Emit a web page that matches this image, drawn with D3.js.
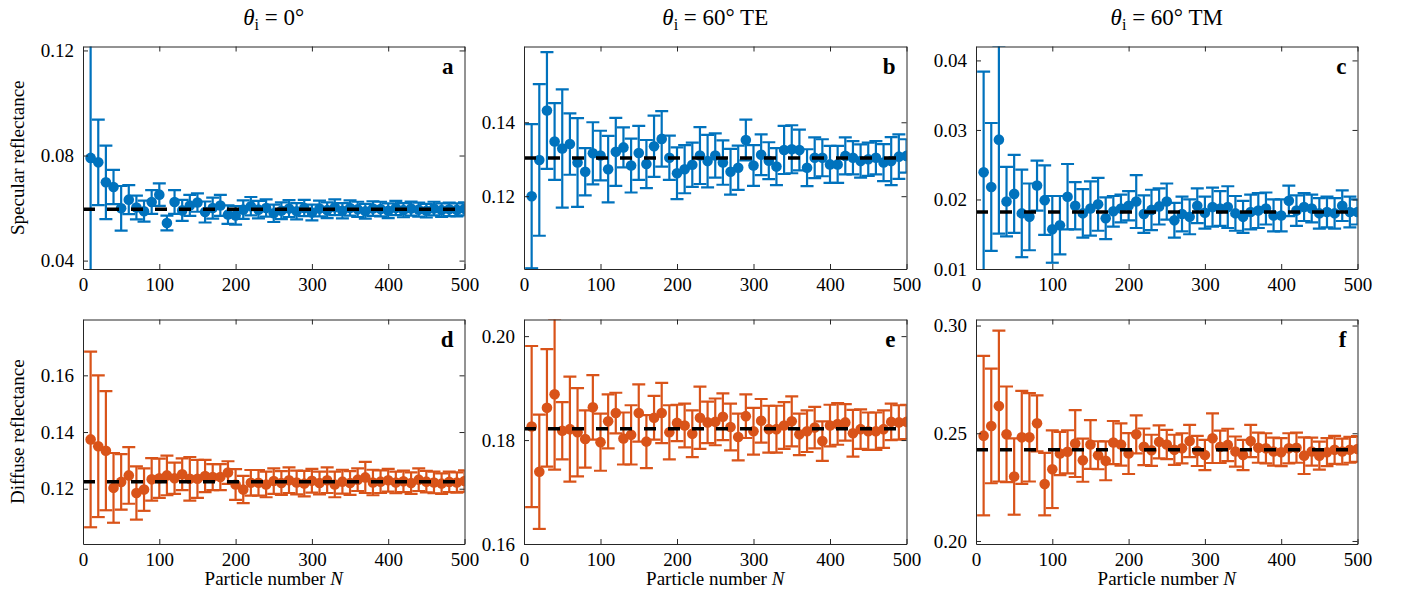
<!DOCTYPE html>
<html><head><meta charset="utf-8">
<script src="https://cdn.jsdelivr.net/npm/d3@7"></script>
<style>body{margin:0;background:#fff}svg{display:block}</style>
</head><body><svg id="c" width="1408" height="601"></svg>
<script>
const particleN = d3.range(10, 501, 10);

const specular0 = [0.0791,0.0774,0.0698,0.0680,0.0599,0.0632,0.0602,0.0588,0.0623,0.0651,
0.0543,0.0623,0.0591,0.0610,0.0621,0.0585,0.0600,0.0610,0.0575,0.0572,
0.0594,0.0607,0.0594,0.0600,0.0580,0.0590,0.0598,0.0588,0.0600,0.0583,
0.0598,0.0592,0.0603,0.0590,0.0600,0.0595,0.0588,0.0598,0.0596,0.0590,
0.0600,0.0592,0.0598,0.0594,0.0590,0.0598,0.0592,0.0595,0.0593,0.0597];
const specular0Err = [0.05,0.0163,0.014,0.0065,0.0085,0.0055,0.0045,0.004,0.0045,0.0043,
0.0028,0.0045,0.004,0.004,0.0035,0.004,0.004,0.004,0.0035,0.0035,
0.0035,0.0035,0.0033,0.0033,0.0033,0.0032,0.0032,0.0031,0.0031,0.003,
0.003,0.003,0.003,0.0029,0.0029,0.0029,0.0028,0.0028,0.0028,0.0028,
0.0027,0.0027,0.0027,0.0027,0.0026,0.0026,0.0026,0.0026,0.0025,0.0025];

const specular60TE = [0.1200,0.1298,0.1432,0.1348,0.1329,0.1341,0.1291,0.1266,0.1316,0.1310,
0.1273,0.1320,0.1332,0.1283,0.1317,0.1287,0.1335,0.1355,0.1304,0.1262,
0.1273,0.1285,0.1310,0.1295,0.1310,0.1291,0.1266,0.1277,0.1352,0.1283,
0.1312,0.1296,0.1280,0.1325,0.1327,0.1325,0.1277,0.1304,0.1304,0.1286,
0.1286,0.1309,0.1304,0.1295,0.1300,0.1304,0.1291,0.1295,0.1307,0.1309];
const specular60TEErr = [0.0195,0.0205,0.0158,0.0104,0.016,0.0083,0.012,0.0064,0.0084,0.0067,
0.009,0.0092,0.0054,0.0073,0.0073,0.0065,0.0083,0.0075,0.006,0.007,
0.0065,0.006,0.0077,0.0071,0.006,0.006,0.0062,0.006,0.0055,0.0055,
0.0055,0.005,0.005,0.0065,0.0065,0.0055,0.005,0.0055,0.005,0.005,
0.005,0.005,0.0045,0.0045,0.0045,0.0045,0.005,0.0065,0.006,0.0045];

const specular60TM = [0.0239,0.0218,0.0286,0.0197,0.0208,0.0180,0.0175,0.0220,0.0199,0.0157,
0.0163,0.0204,0.0191,0.0180,0.0187,0.0193,0.0173,0.0183,0.0187,0.0191,
0.0197,0.0179,0.0185,0.0190,0.0197,0.0170,0.0179,0.0175,0.0191,0.0181,
0.0189,0.0187,0.0189,0.0180,0.0175,0.0182,0.0184,0.0187,0.0177,0.0177,
0.0198,0.0184,0.0189,0.0187,0.0180,0.0182,0.0180,0.0191,0.0182,0.0182];
const specular60TMErr = [0.0145,0.0092,0.0135,0.005,0.0056,0.0063,0.0048,0.0036,0.005,0.0048,
0.0042,0.0047,0.0034,0.0035,0.0039,0.0038,0.003,0.0022,0.002,0.0021,
0.0038,0.0027,0.0029,0.0026,0.0026,0.0025,0.0025,0.0025,0.0025,0.0023,
0.0028,0.0025,0.003,0.0025,0.0023,0.0025,0.0025,0.0023,0.0023,0.0023,
0.0022,0.0022,0.002,0.002,0.0022,0.0022,0.0022,0.0022,0.0022,0.0018];

const diffuse0 = [0.1374,0.1350,0.1334,0.1203,0.1224,0.1247,0.1185,0.1197,0.1233,0.1237,
0.1247,0.1237,0.1251,0.1235,0.1235,0.1245,0.1241,0.1241,0.1257,0.1215,
0.1197,0.1221,0.1221,0.1215,0.1227,0.1220,0.1230,0.1222,0.1218,0.1228,
0.1220,0.1230,0.1215,0.1225,0.1220,0.1232,0.1240,0.1222,0.1225,0.1230,
0.1222,0.1226,0.1220,0.1232,0.1225,0.1222,0.1218,0.1224,0.1222,0.1227];
const diffuse0Err = [0.031,0.025,0.021,0.0123,0.0098,0.01,0.0094,0.0075,0.0075,0.0069,
0.007,0.0055,0.0056,0.0077,0.0067,0.0057,0.0046,0.0046,0.004,0.0054,
0.0048,0.0045,0.0045,0.0045,0.0045,0.0042,0.0045,0.0042,0.0045,0.0042,
0.004,0.0045,0.0045,0.0042,0.0042,0.004,0.0055,0.0045,0.004,0.004,
0.0038,0.0038,0.0038,0.004,0.0038,0.0038,0.0036,0.0036,0.0036,0.0038];

const diffuse60TE = [0.1826,0.1739,0.1862,0.1888,0.1818,0.1821,0.1815,0.1802,0.1863,0.1796,
0.1836,0.1852,0.1803,0.1810,0.1852,0.1797,0.1843,0.1852,0.1815,0.1833,
0.1828,0.1812,0.1843,0.1834,0.1835,0.1845,0.1825,0.1806,0.1846,0.1817,
0.1837,0.1821,0.1821,0.1828,0.1836,0.1811,0.1817,0.1824,0.1798,0.1828,
0.1831,0.1834,0.1813,0.1821,0.1817,0.1817,0.1821,0.1835,0.1834,0.1835];
const diffuse60TEErr = [0.0155,0.011,0.0113,0.0145,0.0055,0.0101,0.0085,0.0055,0.0062,0.0055,
0.0052,0.0039,0.005,0.0057,0.0055,0.0051,0.0042,0.0058,0.0052,0.0035,
0.0042,0.0045,0.006,0.004,0.0045,0.0045,0.0045,0.0045,0.0042,0.0045,
0.0042,0.0045,0.0045,0.0045,0.0048,0.004,0.004,0.004,0.0038,0.004,
0.004,0.0035,0.0045,0.0038,0.0036,0.0036,0.0036,0.0035,0.0033,0.0033];

const diffuse60TM = [0.2489,0.2534,0.2626,0.2495,0.2299,0.2481,0.2481,0.2546,0.2264,0.2333,
0.2406,0.2414,0.2452,0.2375,0.2448,0.2398,0.2372,0.2457,0.2448,0.2406,
0.2495,0.2437,0.2421,0.2460,0.2448,0.2423,0.2430,0.2464,0.2418,0.2399,
0.2477,0.2437,0.2446,0.2415,0.2399,0.2464,0.2433,0.2430,0.2415,0.2412,
0.2430,0.2433,0.2396,0.2415,0.2396,0.2412,0.2423,0.2415,0.2423,0.2427];
const diffuse60TMErr = [0.037,0.0266,0.035,0.0222,0.0177,0.0216,0.0205,0.013,0.0145,0.018,
0.01,0.01,0.0155,0.01,0.0113,0.0065,0.009,0.01,0.0098,0.0095,
0.0088,0.0085,0.0072,0.0077,0.0068,0.007,0.007,0.0075,0.007,0.007,
0.0115,0.0075,0.0075,0.007,0.007,0.0075,0.007,0.007,0.0065,0.0065,
0.007,0.007,0.0085,0.0065,0.0065,0.0065,0.0065,0.006,0.006,0.006];

const referenceValues = [0.0595, 0.1303, 0.0182, 0.1225, 0.1822, 0.2423];
const yDomains = [[0.0368,0.1215],[0.1003,0.1605],[0.01,0.042],[0.1005,0.1797],[0.16,0.2032],[0.1986,0.3028]];
const yTicks = [[0.04,0.08,0.12],[0.12,0.14],[0.01,0.02,0.03,0.04],[0.12,0.14,0.16],[0.16,0.18,0.20],[0.20,0.25,0.30]];
const xTicks = [0,100,200,300,400,500];
const panelLetters = ["a","b","c","d","e","f"];
const rowLabels = ["Specular reflectance","Diffuse reflectance"];
const xLabel = "Particle number ";
const colTitles = [" = 0°"," = 60° TE"," = 60° TM"];

const seriesVals = [specular0, specular60TE, specular60TM, diffuse0, diffuse60TE, diffuse60TM];
const seriesErrs = [specular0Err, specular60TEErr, specular60TMErr, diffuse0Err, diffuse60TEErr, diffuse60TMErr];
const rowColors = ["#0072BD", "#D95319"];

const svg = d3.select("#c");
const FONT = "'Liberation Serif','Times New Roman',serif";
const axisColor = "#262626";
const colX = [[83,464.5],[524,906.5],[976,1357.5]];
const rowY = [[46.5,269],[319.5,544]];

for (let p = 0; p < 6; p++) {
  const row = Math.floor(p/3), col = p%3;
  const [x0,x1] = colX[col], [y0,y1] = rowY[row];
  const x = d3.scaleLinear().domain([0,500]).range([x0,x1]);
  const y = d3.scaleLinear().domain(yDomains[p]).range([y1,y0]);
  const color = rowColors[row];
  const data = particleN.map((n,i)=>({n, v: seriesVals[p][i], e: seriesErrs[p][i]}));
  const g = svg.append("g");
  const clipId = "clip"+p;
  svg.append("clipPath").attr("id",clipId).append("rect")
    .attr("x",x0).attr("y",y0).attr("width",x1-x0).attr("height",y1-y0);
  const plot = g.append("g").attr("clip-path",`url(#${clipId})`);

  const eb = plot.append("g").attr("stroke",color).attr("stroke-width",2.2).attr("fill","none");
  const cap = 6.5;
  data.forEach(d=>{
    const yt = y(d.v + d.e), yb = y(d.v - d.e), xc = x(d.n);
    eb.append("line").attr("x1",xc).attr("x2",xc).attr("y1",yt).attr("y2",yb);
    eb.append("line").attr("x1",xc-cap).attr("x2",xc+cap).attr("y1",yt).attr("y2",yt);
    eb.append("line").attr("x1",xc-cap).attr("x2",xc+cap).attr("y1",yb).attr("y2",yb);
  });
  plot.append("g").selectAll("circle").data(data).join("circle")
    .attr("cx",d=>x(d.n)).attr("cy",d=>y(d.v)).attr("r",5.3).attr("fill",color);
  plot.append("line").attr("x1",x(0)).attr("x2",x(500))
    .attr("y1",y(referenceValues[p])).attr("y2",y(referenceValues[p]))
    .attr("stroke","#000").attr("stroke-width",3.5).attr("stroke-dasharray","12,12");

  // axes: inward ticks on all sides
  const tl = 5;
  const axB = d3.axisBottom(x).tickValues(xTicks).tickSizeInner(-tl).tickSizeOuter(0).tickPadding(9);
  const axT = d3.axisTop(x).tickValues(xTicks).tickSizeInner(-tl).tickSizeOuter(0).tickFormat("");
  const axL = d3.axisLeft(y).tickValues(yTicks[p]).tickSizeInner(-tl).tickSizeOuter(0).tickPadding(9).tickFormat(d3.format(".2f"));
  const axR = d3.axisRight(y).tickValues(yTicks[p]).tickSizeInner(-tl).tickSizeOuter(0).tickFormat("");
  const gB = g.append("g").attr("transform",`translate(0,${y1})`).call(axB);
  const gT = g.append("g").attr("transform",`translate(0,${y0})`).call(axT);
  const gL = g.append("g").attr("transform",`translate(${x0},0)`).call(axL);
  const gR = g.append("g").attr("transform",`translate(${x1},0)`).call(axR);
  [gB,gT,gL,gR].forEach(a=>{
    a.select(".domain").attr("stroke",axisColor).attr("stroke-width",1);
    a.selectAll(".tick line").attr("stroke",axisColor).attr("stroke-width",1);
    a.selectAll("text").attr("font-family",FONT).attr("font-size",19).attr("fill","#000");
  });
  // panel letter
  g.append("text").attr("x",x1-11).attr("y",y0+27).attr("text-anchor","end")
    .attr("font-family",FONT).attr("font-weight","bold").attr("font-size",23).text(panelLetters[p]);

  if (row === 1) {
    const t = g.append("text").attr("x",(x0+x1)/2).attr("y",585).attr("text-anchor","middle")
      .attr("font-family",FONT).attr("font-size",19);
    t.append("tspan").text(xLabel);
    t.append("tspan").attr("font-style","italic").text("N");
  }
  if (row === 0) {
    const t = g.append("text").attr("x",(x0+x1)/2).attr("y",25).attr("text-anchor","middle")
      .attr("font-family",FONT).attr("font-size",23);
    t.append("tspan").attr("font-style","italic").text("θ");
    t.append("tspan").attr("font-size",16).attr("dy",5).text("i");
    t.append("tspan").attr("dy",-5).text(colTitles[col]);
  }
  if (col === 0) {
    g.append("text").attr("transform",`translate(24,${(y0+y1)/2}) rotate(-90)`)
      .attr("text-anchor","middle").attr("font-family",FONT).attr("font-size",19)
      .text(rowLabels[row]);
  }
}
</script>
</body></html>
